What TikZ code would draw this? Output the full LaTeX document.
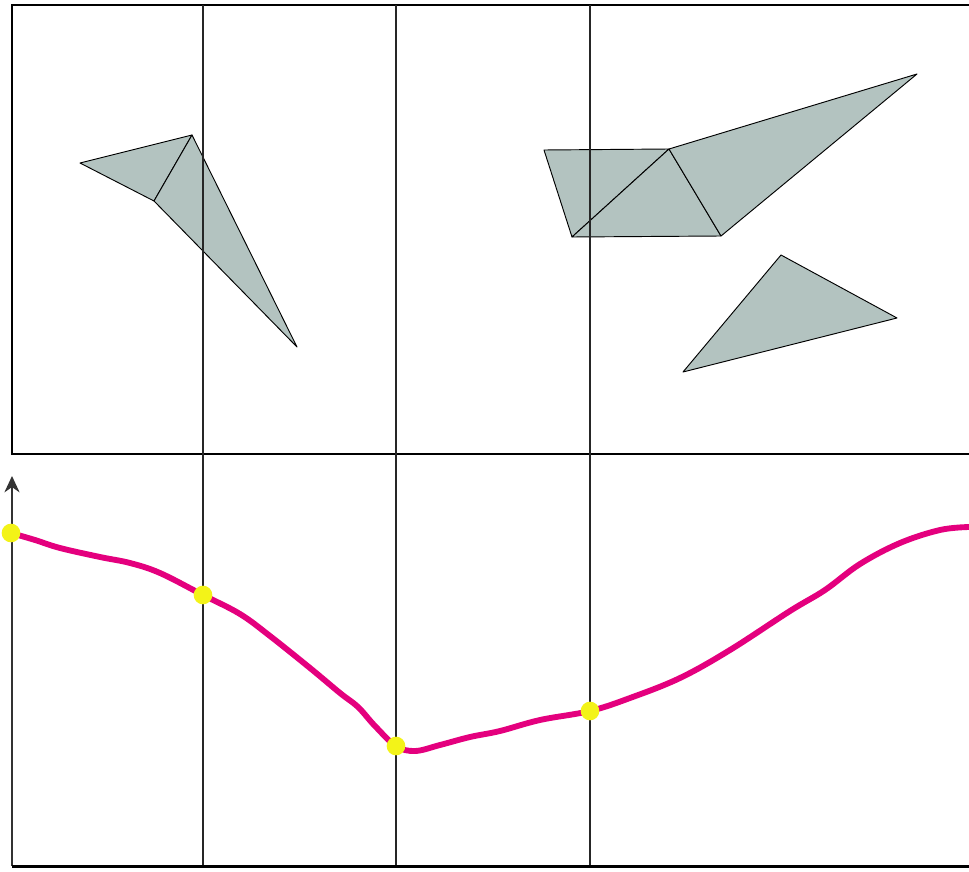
\documentclass[tikz,border=0pt]{standalone}
\usepackage{tikz}
\usetikzlibrary{calc, arrows.meta}
\definecolor{tricol}{RGB}{179,195,192}
\definecolor{curvecol}{RGB}{228,0,126}
\definecolor{dotcol}{RGB}{243,243,24}

\begin{document}
\begin{tikzpicture}[>={Stealth[length=14pt, width=13pt]}, x=0.03cm, y=-0.03cm]
  \useasboundingbox (0,0) rectangle (969,872);
  \tikzset{tri/.style={fill=tricol, draw=black, line width=0.8pt, line join=round}}
  % triangles, left group
  \draw[tri] (80,163) -- (192,135) -- (154,201) -- cycle;
  \draw[tri] (192,135) -- (154,201) -- (297,347) -- cycle;
  % triangles, right group
  \draw[tri] (544,150) -- (669,149) -- (572,237) -- cycle;
  \draw[tri] (669,149) -- (572,237) -- (721,236) -- cycle;
  \draw[tri] (669,149) -- (721,236) -- (917,74) -- cycle;
  \draw[tri] (781,255) -- (897,318) -- (683,372) -- cycle;
  % frame of the top panel
  \draw[line width=1.9pt] (969,5) -- (12,5) -- (12,454) -- (969,454);
  % grid lines
  \foreach \x in {203,396,590} {
    \draw[line width=0.9pt, black!85] (\x,5) -- (\x,867);
  }
  % axes of the bottom panel
  \draw[->, line width=1.1pt, black!80] (12,866) -- (12,476);
  \draw[line width=1.9pt] (12,866.5) -- (969,866.5);
  % profile
  \draw[curvecol, line width=5pt, line cap=round] plot[smooth, tension=0.6] coordinates {
    (11,533) (35,540) (60,548) (100,557) (130,563) (160,573) (203,595)
    (240,614) (270,636) (310,668) (340,693) (358,707) (375,726) (396,746)
    (415,751) (440,745) (470,737) (500,731) (540,720) (590,711) (630,698)
    (680,678) (730,650) (790,611) (825,590) (860,564) (900,543) (940,530) (969,527)};
  % sample points
  \foreach \x/\y in {11/533, 203/595, 396/746, 590/711} {
    \fill[dotcol] (\x,\y) circle (0.28cm);
  }
\end{tikzpicture}
\end{document}
